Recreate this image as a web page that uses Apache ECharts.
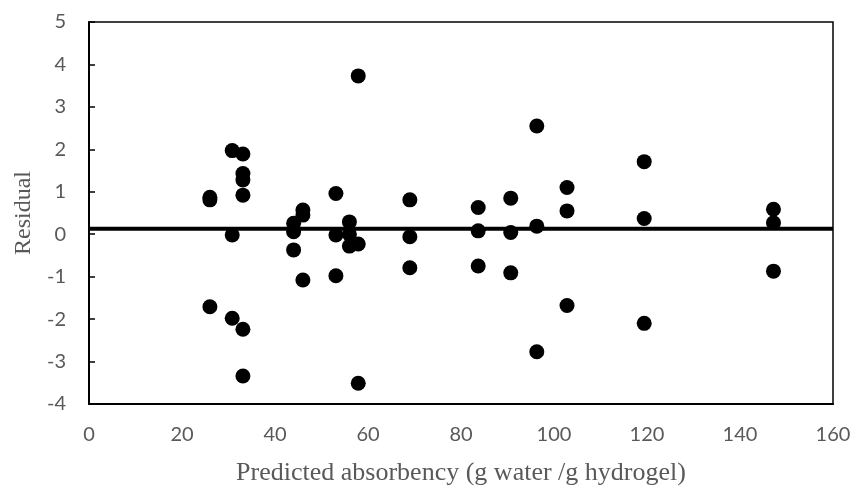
<!DOCTYPE html>
<html>
<head>
<meta charset="utf-8">
<script src="https://cdn.jsdelivr.net/npm/echarts@6/dist/echarts.min.js"></script>
<style>
  html, body { margin: 0; padding: 0; background: #fff; }
  #chart { width: 857px; height: 492px; }
</style>
</head>
<body>
<div id="chart"></div>
<script>
// Predicted absorbency (g water / g hydrogel) for each run
const predicted = [
  26.0, 26.0, 26.0,
  30.8, 30.8, 30.8,
  33.1, 33.1, 33.1, 33.1, 33.1, 33.1,
  44.0, 44.0, 44.0,
  46.0, 46.0, 46.0,
  53.1, 53.1, 53.1,
  56.0, 56.0, 56.0,
  57.9, 57.9, 57.9,
  69.0, 69.0, 69.0,
  83.7, 83.7, 83.7,
  90.7, 90.7, 90.7,
  96.3, 96.3, 96.3,
  102.8, 102.8, 102.8,
  119.4, 119.4, 119.4,
  147.2, 147.2, 147.2
];

// Residual (observed - predicted) for each run
const residuals = [
  0.87, 0.81, -1.71,
  1.97, -0.02, -1.98,
  1.89, 1.43, 1.28, 0.92, -2.24, -3.34,
  0.26, 0.06, -0.37,
  0.57, 0.45, -1.08,
  0.96, -0.02, -0.98,
  0.29, 0.00, -0.28,
  3.73, -0.23, -3.51,
  0.81, -0.06, -0.79,
  0.63, 0.08, -0.75,
  0.85, 0.04, -0.91,
  2.55, 0.19, -2.77,
  1.10, 0.55, -1.68,
  1.71, 0.37, -2.10,
  0.59, 0.27, -0.87
];

// Mean residual reference line across the full predicted range
const meanResidual = 0.13;
const lineRange = [0, 160];

const xTicks = { min: 0, max: 160, interval: 20 };
const yTicks = { min: -4, max: 5, interval: 1 };

const points = predicted.map((x, i) => [x, residuals[i]]);
const meanLine = lineRange.map(x => [x, meanResidual]);

const labelStyle = {
  color: '#595959',
  fontFamily: 'Lato',
  fontSize: 20
};
const nameStyle = {
  color: '#595959',
  fontFamily: '"Liberation Serif", "Times New Roman", serif'
};

const chart = echarts.init(document.getElementById('chart'), null, { renderer: 'canvas' });
chart.setOption({
  animation: false,
  backgroundColor: '#fff',
  grid: {
    left: 89, right: 24, top: 22, bottom: 88,
    show: true,
    borderColor: '#000',
    borderWidth: 1.5,
    backgroundColor: 'transparent'
  },
  xAxis: {
    type: 'value',
    min: xTicks.min, max: xTicks.max, interval: xTicks.interval,
    name: 'Predicted absorbency (g water /g hydrogel)',
    nameLocation: 'middle',
    nameGap: 56,
    nameTextStyle: Object.assign({ fontSize: 26 }, nameStyle),
    axisLine: { show: true, onZero: false, lineStyle: { color: '#000', width: 2 } },
    axisTick: { show: false },
    axisLabel: Object.assign({ margin: 21 }, labelStyle),
    splitLine: { show: false }
  },
  yAxis: {
    type: 'value',
    min: yTicks.min, max: yTicks.max, interval: yTicks.interval,
    name: 'Residual',
    nameLocation: 'middle',
    nameGap: 49,
    nameTextStyle: Object.assign({ fontSize: 24 }, nameStyle),
    axisLine: { show: true, onZero: false, lineStyle: { color: '#000', width: 2 } },
    axisTick: { show: true, inside: true, length: 6, lineStyle: { color: '#000', width: 1.5 } },
    axisLabel: Object.assign({ margin: 23 }, labelStyle),
    splitLine: { show: false }
  },
  series: [
    {
      type: 'scatter',
      data: points,
      symbol: 'circle',
      symbolSize: 15,
      itemStyle: { color: '#000', opacity: 1 },
      z: 2
    },
    {
      type: 'line',
      data: meanLine,
      showSymbol: false,
      symbol: 'none',
      lineStyle: { color: '#000', width: 4 },
      z: 3
    }
  ]
});
</script>
</body>
</html>
